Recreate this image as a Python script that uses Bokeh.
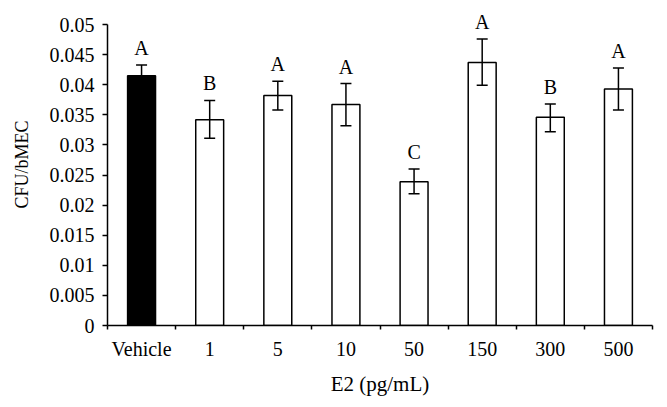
from bokeh.plotting import figure
from bokeh.models import ColumnDataSource, FixedTicker, Whisker, TeeHead, Range1d
from bokeh.core.properties import value
from bokeh.embed import file_html
from bokeh.resources import INLINE

categories = ["Vehicle", "1", "5", "10", "50", "150", "300", "500"]
means = [0.0415, 0.0342, 0.0382, 0.0367, 0.0239, 0.0437, 0.0346, 0.0393]
upper = [0.0433, 0.0374, 0.0406, 0.0402, 0.0260, 0.0476, 0.0368, 0.0428]
lower = [0.0397, 0.0311, 0.0358, 0.0332, 0.0219, 0.0399, 0.0322, 0.0358]
letters = ["A", "B", "A", "A", "C", "A", "B", "A"]
colors = ["black", "white", "white", "white", "white", "white", "white", "white"]
ytick_labels = ["0", "0.005", "0.01", "0.015", "0.02", "0.025", "0.03", "0.035", "0.04", "0.045", "0.05"]

FONT = "Liberation Serif"
FS = "20px"

xs = [i + 0.5 for i in range(len(categories))]
src = ColumnDataSource(dict(x=xs, top=means, upper=upper, lower=lower,
                            letter=letters, color=colors))

p = figure(width=659, height=399, output_backend="svg", toolbar_location=None,
           x_range=Range1d(0, len(categories)), y_range=Range1d(0, 0.0535),
           min_border_left=107, min_border_right=7, min_border_top=3, min_border_bottom=74)
p.outline_line_color = None
p.xgrid.visible = False
p.ygrid.visible = False
p.background_fill_color = "white"
p.border_fill_color = "white"

p.vbar(x="x", top="top", bottom=0, width=0.41, fill_color="color",
       line_color="black", line_width=1.5, source=src)

w = Whisker(base="x", upper="upper", lower="lower", source=src, level="overlay",
            line_color="black", line_width=1.5,
            upper_head=TeeHead(size=11, line_color="black", line_width=1.5),
            lower_head=TeeHead(size=11, line_color="black", line_width=1.5))
p.add_layout(w)

p.text(x="x", y="upper", text="letter", source=src, text_align="center",
       text_baseline="alphabetic", y_offset=-17, text_font=value(FONT),
       text_font_size=FS, text_color="black")

# y axis
p.yaxis.bounds = (0, 0.05)
p.yaxis.ticker = FixedTicker(ticks=[float(t) for t in ytick_labels])
p.yaxis.major_label_overrides = {float(t): t for t in ytick_labels}
p.yaxis.minor_tick_line_color = None
p.yaxis.major_tick_in = 0
p.yaxis.major_tick_out = 5
p.yaxis.axis_line_width = 1.5
p.yaxis.major_tick_line_width = 1.5
p.yaxis.major_label_standoff = 8
p.yaxis.axis_label = "CFU/bMEC"
p.yaxis.axis_label_standoff = 15

# x axis
p.xaxis.ticker = FixedTicker(ticks=xs, minor_ticks=list(range(len(categories) + 1)))
p.xaxis.major_label_overrides = {x: c for x, c in zip(xs, categories)}
p.xaxis.major_tick_line_color = None
p.xaxis.minor_tick_in = 0
p.xaxis.minor_tick_out = 4
p.xaxis.minor_tick_line_width = 1.5
p.xaxis.axis_line_width = 1.5
p.xaxis.major_label_standoff = 6
p.xaxis.axis_label = "E2 (pg/mL)"
p.xaxis.axis_label_standoff = 9

for ax in (p.xaxis, p.yaxis):
    ax.major_label_text_font = FONT
    ax.major_label_text_font_size = FS
    ax.major_label_text_color = "black"
    ax.axis_label_text_font = FONT
    ax.axis_label_text_font_style = "normal"
    ax.axis_label_text_color = "black"
    ax.axis_line_color = "black"
p.yaxis.axis_label_text_font_size = "18px"
p.xaxis.axis_label_text_font_size = "21px"

open("out.html", "w").write(file_html(p, INLINE))
